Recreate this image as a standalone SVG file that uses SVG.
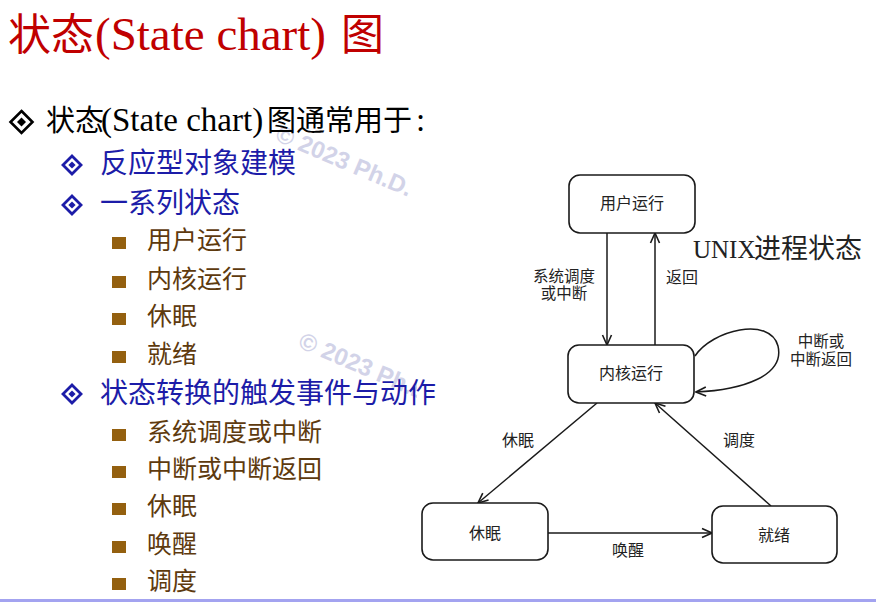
<svg xmlns="http://www.w3.org/2000/svg" width="876" height="602" viewBox="0 0 876 602">
  <style>
    .cjk { font-family: "Noto Sans CJK SC", "Noto Sans", sans-serif; }
    .ser { font-family: "Liberation Serif", "Noto Sans CJK SC", serif; }
    .title { fill: #c00000; }
    .l1 { fill: #000000; }
    .l2 { fill: #1c1ca8; font-size: 28px; }
    .l3 { fill: #5e3a0e; font-size: 25px; }
    .sq { fill: #94600f; }
    .wm { font-family: "Liberation Sans", Arial, sans-serif; font-weight: bold; font-size: 24px; fill: #d2d3e8; }
    .box { fill: #ffffff; stroke: #1a1a1a; stroke-width: 1.6; }
    .lbl { font-family: "Noto Sans CJK SC", sans-serif; font-size: 16px; fill: #222222; text-anchor: middle; }
    .lbl2 { font-size: 15.5px; }
    .edge { fill: none; stroke: #1a1a1a; stroke-width: 1.5; }
  </style>
  <defs>
    <marker id="arrow" viewBox="0 0 12 12" refX="11" refY="6" markerWidth="12" markerHeight="12" markerUnits="userSpaceOnUse" orient="auto">
      <path d="M1,1.5 L11,6 L1,10.5" fill="none" stroke="#1a1a1a" stroke-width="1.6"/>
    </marker>
    <g id="dia1">
      <polygon points="0,-11 11,0 0,11 -11,0" fill="none" stroke="#000" stroke-width="2.6"/>
      <polygon points="0,-4.5 4.5,0 0,4.5 -4.5,0" fill="#000"/>
    </g>
    <g id="dia2">
      <polygon points="0,-9 9,0 0,9 -9,0" fill="none" stroke="#1c1ca8" stroke-width="2.8"/>
      <polygon points="0,-3.6 3.6,0 0,3.6 -3.6,0" fill="#1c1ca8"/>
    </g>
  </defs>

  <rect width="876" height="602" fill="#ffffff"/>

  <!-- watermark -->
  <g id="watermark">
    <text class="wm" transform="translate(274,140) rotate(23)">© 2023 Ph.D.</text>
    <text class="wm" transform="translate(297,347) rotate(23)">© 2023 Ph.D.</text>
  </g>

  <!-- pasted diagram area -->
  <rect x="417" y="168" width="459" height="400" fill="#ffffff"/>

  <!-- title -->
  <text class="title" y="50">
    <tspan class="cjk" x="8" font-size="43">状态</tspan><tspan class="ser" x="95" font-size="47">(State chart)</tspan><tspan class="cjk" x="341" font-size="43">图</tspan>
  </text>

  <!-- bullet list -->
  <use href="#dia1" x="21.5" y="122"/>
  <text class="l1" y="131">
    <tspan class="cjk" x="46" font-size="29">状态</tspan><tspan class="ser" x="101" font-size="33">(State chart)</tspan><tspan class="cjk" x="267" font-size="29">图通常用于</tspan><tspan class="ser" x="416" font-size="33">:</tspan>
  </text>

  <use href="#dia2" x="72" y="165"/>
  <text class="cjk l2" x="100" y="173">反应型对象建模</text>
  <use href="#dia2" x="72" y="205"/>
  <text class="cjk l2" x="100" y="213">一系列状态</text>

  <rect class="sq" x="112" y="237" width="14" height="12"/>
  <text class="cjk l3" x="147" y="249">用户运行</text>
  <rect class="sq" x="112" y="276" width="14" height="12"/>
  <text class="cjk l3" x="147" y="288">内核运行</text>
  <rect class="sq" x="112" y="313" width="14" height="12"/>
  <text class="cjk l3" x="147" y="325">休眠</text>
  <rect class="sq" x="112" y="351" width="14" height="12"/>
  <text class="cjk l3" x="147" y="363">就绪</text>

  <use href="#dia2" x="72" y="394"/>
  <text class="cjk l2" x="100" y="403">状态转换的触发事件与动作</text>

  <rect class="sq" x="112" y="429" width="14" height="12"/>
  <text class="cjk l3" x="147" y="441">系统调度或中断</text>
  <rect class="sq" x="112" y="466" width="14" height="12"/>
  <text class="cjk l3" x="147" y="478">中断或中断返回</text>
  <rect class="sq" x="112" y="503" width="14" height="12"/>
  <text class="cjk l3" x="147" y="515">休眠</text>
  <rect class="sq" x="112" y="541" width="14" height="12"/>
  <text class="cjk l3" x="147" y="553">唤醒</text>
  <rect class="sq" x="112" y="578" width="14" height="12"/>
  <text class="cjk l3" x="147" y="590">调度</text>

  <!-- state chart -->
  <g id="edges">
    <line class="edge" x1="607" y1="233" x2="607" y2="345" marker-end="url(#arrow)"/>
    <line class="edge" x1="655" y1="345" x2="655" y2="233" marker-end="url(#arrow)"/>
    <path class="edge" d="M695,356 C712,330 770,316 778,346 C785,376 742,390 696,392" marker-end="url(#arrow)"/>
    <line class="edge" x1="597" y1="403" x2="478" y2="503" marker-end="url(#arrow)"/>
    <line class="edge" x1="771" y1="506" x2="655" y2="403" marker-end="url(#arrow)"/>
    <line class="edge" x1="548" y1="533" x2="712" y2="533" marker-end="url(#arrow)"/>
    <text class="lbl lbl2" x="564" y="282">系统调度<tspan x="564" dy="16.5">或中断</tspan></text>
    <text class="lbl" x="682" y="283">返回</text>
    <text class="lbl lbl2" x="821" y="347">中断或<tspan x="821" dy="17.5">中断返回</tspan></text>
    <text class="lbl" x="518" y="446">休眠</text>
    <text class="lbl" x="739" y="446">调度</text>
    <text class="lbl" x="628" y="556">唤醒</text>
  </g>

  <g id="user-run">
    <rect class="box" x="569" y="175" width="126" height="58" rx="11"/>
    <text class="lbl" x="632" y="209">用户运行</text>
  </g>
  <g id="kernel-run">
    <rect class="box" x="568" y="345" width="126" height="58" rx="11"/>
    <text class="lbl" x="631" y="379">内核运行</text>
  </g>
  <g id="sleep">
    <rect class="box" x="422" y="503" width="126" height="57" rx="11"/>
    <text class="lbl" x="485" y="539">休眠</text>
  </g>
  <g id="ready">
    <rect class="box" x="712" y="506" width="125" height="57" rx="11"/>
    <text class="lbl" x="774" y="541">就绪</text>
  </g>

  <text y="258" fill="#222222">
    <tspan class="ser" x="693" font-size="25">UNIX</tspan><tspan class="cjk" x="754" font-size="27">进程状态</tspan>
  </text>

  <!-- footer rule -->
  <rect x="0" y="599" width="876" height="3" fill="#a3a3f0"/>
</svg>
